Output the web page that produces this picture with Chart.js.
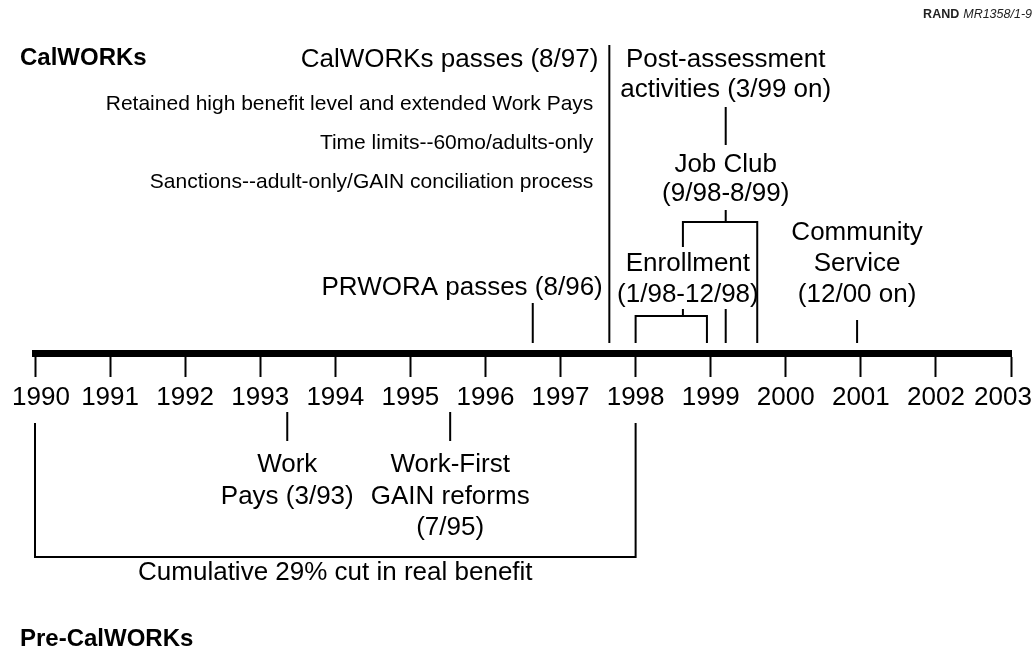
<!DOCTYPE html>
<html>
<head>
<meta charset="utf-8">
<script src="https://cdn.jsdelivr.net/npm/chart.js@4.4.0/dist/chart.umd.min.js"></script>
<style>
  html, body { margin: 0; padding: 0; background: #fff; }
  #wrap { width: 1036px; height: 652px; position: relative; }
  canvas { display: block; }
</style>
</head>
<body>
<div id="wrap"><canvas id="c" width="1036" height="652"></canvas></div>
<script>
// ---------------- DATA ----------------
const yearTicks = [1990, 1991, 1992, 1993, 1994, 1995, 1996, 1997, 1998, 1999, 2000, 2001, 2002, 2003];

const eventNames = [
  'PRWORA passes', 'CalWORKs passes', 'Enrollment', 'Job Club',
  'Post-assessment activities', 'Community Service', 'Work Pays',
  'Work-First GAIN reforms', 'Cumulative 29% cut in real benefit'
];
// dates as decimal years
const eventStart = [1996.63, 1997.65, 1998.0, 1998.63, 1999.2, 2000.95, 1993.36, 1995.53, 1990.0];
const eventEnd   = [null,    null,    1998.95, 1999.62, null,   null,    null,    null,    1998.0];

const eventLabelLines = [
  ['PRWORA passes (8/96)'],
  ['CalWORKs passes (8/97)'],
  ['Enrollment', '(1/98-12/98)'],
  ['Job Club', '(9/98-8/99)'],
  ['Post-assessment', 'activities (3/99 on)'],
  ['Community', 'Service', '(12/00 on)'],
  ['Work', 'Pays (3/93)'],
  ['Work-First', 'GAIN reforms', '(7/95)'],
  ['Cumulative 29% cut in real benefit']
];

const calworksProvisions = [
  'Retained high benefit level and extended Work Pays',
  'Time limits--60mo/adults-only',
  'Sanctions--adult-only/GAIN conciliation process'
];

const sectionTitles = ['CalWORKs', 'Pre-CalWORKs'];
const sourceNote = ['RAND', 'MR1358/1-9'];

// ---------------- LAYOUT (vertical positions on a hidden 0..652 y scale) ----------------
const AXIS_Y = 353.5;
const FONT = '"Liberation Sans", Arial, Helvetica, sans-serif';
const S = eventStart, E = eventEnd;

function seg(pts) {
  return {
    data: pts, showLine: true, borderColor: '#000', borderWidth: 2,
    pointRadius: 0, pointHoverRadius: 0, fill: false, clip: false,
    tension: 0, borderJoinStyle: 'miter', borderCapStyle: 'butt'
  };
}

const datasets = [
  seg([{x: S[0], y: 303}, {x: S[0], y: 343}]),                                         // PRWORA
  seg([{x: S[1], y: 45},  {x: S[1], y: 343}]),                                         // CalWORKs passes
  seg([{x: S[2], y: 343}, {x: S[2], y: 316}, {x: E[2], y: 316}, {x: E[2], y: 343}]),   // Enrollment bracket
  seg([{x: S[3], y: 309}, {x: S[3], y: 316}]),                                         // Job Club leg meets enrollment
  seg([{x: S[3], y: 247}, {x: S[3], y: 222}, {x: E[3], y: 222}, {x: E[3], y: 343}]),   // Job Club bracket
  seg([{x: S[4], y: 210}, {x: S[4], y: 222}]),                                         // Job Club label stub
  seg([{x: S[4], y: 107}, {x: S[4], y: 145}]),                                         // Post-assessment stub
  seg([{x: S[4], y: 309}, {x: S[4], y: 343}]),                                         // Post-assessment tick
  seg([{x: S[5], y: 320}, {x: S[5], y: 343}]),                                         // Community Service
  seg([{x: S[6], y: 412}, {x: S[6], y: 441}]),                                         // Work Pays
  seg([{x: S[7], y: 412}, {x: S[7], y: 441}]),                                         // Work-First
  seg([{x: S[8], y: 423}, {x: S[8], y: 557}, {x: E[8], y: 557}, {x: E[8], y: 423}])    // Cumulative cut
];

// text placements: anchor x (data value), pixel nudge, alignment, baselines
const textItems = [
  {lines: eventLabelLines[0], ax: S[0], dx: 70,  align: 'right',  base: [295]},
  {lines: eventLabelLines[1], ax: S[1], dx: -11, align: 'right',  base: [67]},
  {lines: calworksProvisions, ax: S[1], dx: -16, align: 'right',  base: [110, 149, 188], size: 21},
  {lines: eventLabelLines[2], ax: S[3], dx: 5,   align: 'center', base: [271, 302]},
  {lines: eventLabelLines[3], ax: S[4], dx: 0,   align: 'center', base: [172, 201]},
  {lines: eventLabelLines[4], ax: S[4], dx: 0,   align: 'center', base: [67, 97]},
  {lines: eventLabelLines[5], ax: S[5], dx: 0,   align: 'center', base: [240, 271, 302]},
  {lines: eventLabelLines[6], ax: S[6], dx: 0,   align: 'center', base: [472, 504]},
  {lines: eventLabelLines[7], ax: S[7], dx: 0,   align: 'center', base: [472, 504, 535]},
  {lines: eventLabelLines[8], ax: (S[8] + E[8]) / 2, dx: 0, align: 'center', base: [580]}
];

// nudge the outermost year labels inward so they stay on the page
const edgeLabelPlugin = {
  id: 'edgeLabels',
  beforeDraw(chart) {
    const sc = chart.scales.x;
    if (!sc || typeof sc.getLabelItems !== 'function') return;
    const items = sc.getLabelItems(chart.chartArea);
    if (!items || !items.length || items._nudged) return;
    const first = items[0], last = items[items.length - 1];
    if (first && first.options && first.options.translation) first.options.translation[0] += 6;
    if (last && last.options && last.options.translation) last.options.translation[0] -= 8;
    items._nudged = true;
  }
};

const textPlugin = {
  id: 'timelineText',
  afterDraw(chart) {
    const ctx = chart.ctx;
    const xs = chart.scales.x, ys = chart.scales.y;
    ctx.save();
    ctx.fillStyle = '#000';
    ctx.textBaseline = 'alphabetic';
    textItems.forEach(t => {
      ctx.font = (t.size || 26) + 'px ' + FONT;
      ctx.textAlign = t.align;
      const px = xs.getPixelForValue(t.ax) + t.dx;
      t.lines.forEach((ln, i) => ctx.fillText(ln, px, ys.getPixelForValue(t.base[i])));
    });
    // section titles
    ctx.textAlign = 'left';
    ctx.font = 'bold 24px ' + FONT;
    ctx.fillText(sectionTitles[0], 20, 65);
    ctx.fillText(sectionTitles[1], 20, 646);
    // source note (top right)
    ctx.textAlign = 'right';
    ctx.font = 'italic 12.5px ' + FONT;
    const noteW = ctx.measureText(sourceNote[1]).width;
    ctx.fillStyle = '#222';
    ctx.fillText(sourceNote[1], 1032, 18);
    ctx.font = 'bold 12.5px ' + FONT;
    ctx.fillText(sourceNote[0], 1032 - noteW - 4, 18);
    ctx.restore();
  }
};

new Chart(document.getElementById('c'), {
  type: 'scatter',
  data: { datasets },
  options: {
    responsive: false,
    animation: false,
    events: [],
    layout: { padding: { left: 35, right: 25, top: 0, bottom: 0 }, autoPadding: false },
    plugins: { legend: { display: false }, tooltip: { enabled: false }, title: { display: false } },
    scales: {
      x: {
        type: 'linear',
        min: yearTicks[0],
        max: yearTicks[yearTicks.length - 1],
        position: { y: AXIS_Y },
        afterFit: (s) => { s.paddingLeft = 0; s.paddingRight = 0; s.paddingTop = 0; s.paddingBottom = 0; },
        border: { display: true, width: 7, color: '#000' },
        grid: { display: true, drawOnChartArea: false, drawTicks: true, tickLength: 20, tickWidth: 2, tickColor: '#000' },
        ticks: {
          stepSize: 1, autoSkip: false, maxRotation: 0, minRotation: 0,
          padding: 11, color: '#000',
          font: { family: FONT, size: 26, lineHeight: 1 },
          callback: (v) => (yearTicks.includes(v) ? String(v) : '')
        }
      },
      y: { type: 'linear', min: 0, max: 652, reverse: true, display: false }
    }
  },
  plugins: [edgeLabelPlugin, textPlugin]
});
</script>
</body>
</html>
